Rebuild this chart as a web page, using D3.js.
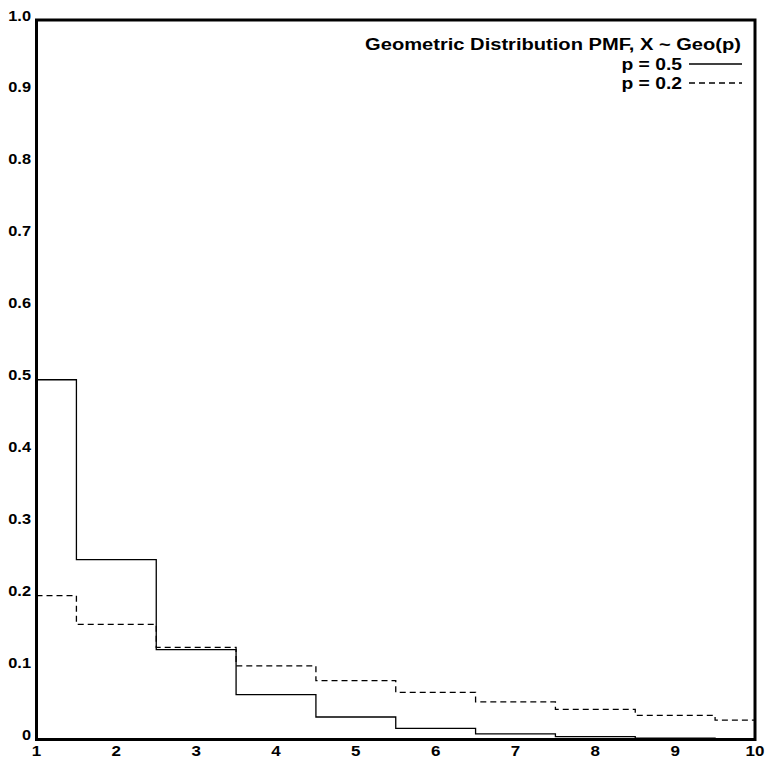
<!DOCTYPE html>
<html>
<head>
<meta charset="utf-8">
<script src="https://cdn.jsdelivr.net/npm/d3@7"></script>
<style>
  html, body { margin: 0; padding: 0; background: #fff; }
  svg { display: block; }
  text { font-family: "Liberation Sans", Arial, Helvetica, sans-serif; font-weight: bold; fill: #000; }
</style>
</head>
<body>
<svg id="chart" width="768" height="762"></svg>
<script>
// Geometric distribution PMF values P(X = k), k = 1..10
const kValues = [1, 2, 3, 4, 5, 6, 7, 8, 9, 10];
const pmfHalf = [0.5, 0.25, 0.125, 0.0625, 0.0313, 0.0156, 0.0078, 0.0039, 0.002, 0.001];
const pmfFifth = [0.2, 0.16, 0.128, 0.1024, 0.0819, 0.0655, 0.0524, 0.0419, 0.0336, 0.0268];

const xTicks = [1, 2, 3, 4, 5, 6, 7, 8, 9, 10];
const yTicks = [0, 0.1, 0.2, 0.3, 0.4, 0.5, 0.6, 0.7, 0.8, 0.9, 1.0];
const yTickLabels = ["0", "0.1", "0.2", "0.3", "0.4", "0.5", "0.6", "0.7", "0.8", "0.9", "1.0"];

const chartTitle = "Geometric Distribution PMF, X ~ Geo(p)";
const seriesNames = ["p = 0.5", "p = 0.2"];

const svg = d3.select("#chart");
const plotLeft = 36.5, plotRight = 755, plotTop = 20, plotBottom = 739.5;
const stretch = 1.17;   // wide-set lettering

const x = d3.scaleLinear().domain([1, 10]).range([plotLeft, plotRight]);
const y = d3.scaleLinear().domain([0, 1]).range([plotBottom, plotTop]);

const line = d3.line()
  .x(d => x(d[0]))
  .y(d => y(d[1]))
  .curve(d3.curveStep);

const series = [
  { name: seriesNames[0], values: pmfHalf, dash: null },
  { name: seriesNames[1], values: pmfFifth, dash: "6,4" }
];

// step lines
series.forEach(s => {
  svg.append("path")
    .datum(kValues.map((k, i) => [k, s.values[i]]))
    .attr("d", line)
    .attr("fill", "none")
    .attr("stroke", "#000")
    .attr("stroke-width", 1.3)
    .attr("stroke-dasharray", s.dash);
});

// frame
svg.append("rect")
  .attr("x", plotLeft).attr("y", plotTop)
  .attr("width", plotRight - plotLeft).attr("height", plotBottom - plotTop)
  .attr("fill", "none").attr("stroke", "#000").attr("stroke-width", 3);

// y tick labels
svg.append("g").selectAll("text")
  .data(yTicks)
  .join("text")
  .attr("transform", d => `translate(31,${y(d) + 0.5}) scale(${stretch},1)`)
  .attr("text-anchor", "end")
  .attr("font-size", 14)
  .text((d, i) => yTickLabels[i]);

// x tick labels
svg.append("g").selectAll("text")
  .data(xTicks)
  .join("text")
  .attr("transform", d => `translate(${x(d)},755.5) scale(${stretch},1)`)
  .attr("text-anchor", "middle")
  .attr("font-size", 14.5)
  .text(d => d);

// legend
const legendRight = 741;
svg.append("text")
  .attr("transform", `translate(${legendRight},49.5) scale(${stretch},1)`)
  .attr("text-anchor", "end")
  .attr("font-size", 17.2)
  .text(chartTitle);

series.forEach((s, i) => {
  const baseY = 69.5 + i * 19;
  svg.append("text")
    .attr("transform", `translate(682,${baseY}) scale(${stretch},1)`)
    .attr("text-anchor", "end")
    .attr("font-size", 16.5)
    .text(s.name);
  svg.append("line")
    .attr("x1", 689).attr("x2", legendRight + 1)
    .attr("y1", baseY - 5.5).attr("y2", baseY - 5.5)
    .attr("stroke", "#000")
    .attr("stroke-width", 1.3)
    .attr("stroke-dasharray", s.dash);
});
</script>
</body>
</html>
